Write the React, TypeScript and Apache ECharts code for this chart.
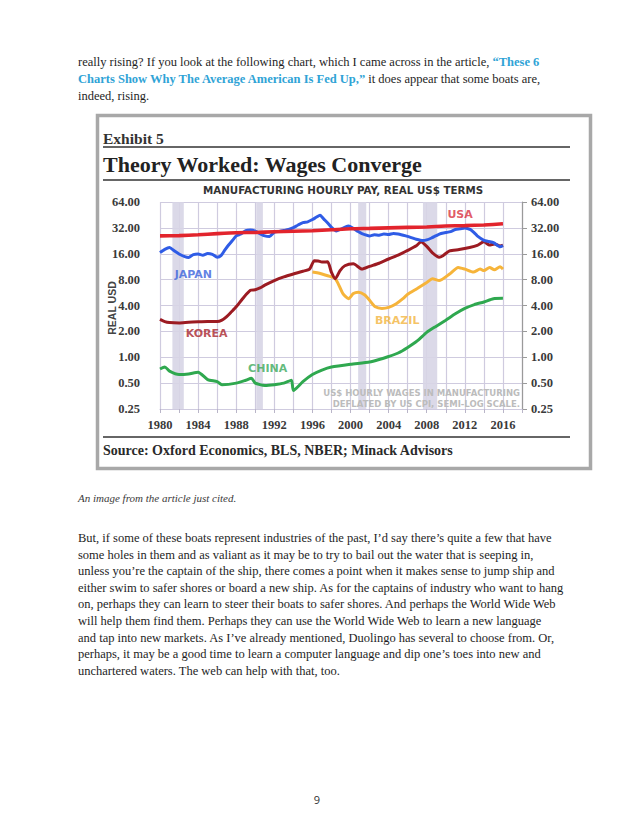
import React, { useEffect, useRef } from "react";
import * as echarts from "echarts";

// ---------- data ----------
const X_MIN = 1980;
const X_MAX = 2018;
const Y_MIN = 0.25;
const Y_MAX = 64;

const RECESSIONS: [number, number][] = [
  [1981.3, 1982.5],
  [1990.1, 1990.8],
  [2000.8, 2001.65],
  [2007.6, 2009.1],
];

const USA: [number, number][] = [
  [1980, 25.8], [1982, 26], [1984, 26.6], [1986, 27.4], [1988, 28.1], [1990, 28.3],
  [1992, 28.8], [1994, 29.2], [1996, 29.6], [1998, 30.4], [2000, 31.3], [2002, 31.6],
  [2004, 32], [2006, 32.4], [2008, 32.8], [2010, 33.6], [2012, 34], [2014, 34.6], [2016, 35.7],
];

const JAPAN: [number, number][] = [
  [1980, 16.5], [1980.5, 18], [1981, 18.9], [1981.5, 17.3], [1982, 15.9], [1982.6, 14.8],
  [1983, 14.5], [1983.5, 15.6], [1984, 15.9], [1984.5, 15.4], [1985, 16.1], [1985.5, 15.7],
  [1986, 14.6], [1986.4, 15.2], [1986.8, 17.6], [1987.2, 20.2], [1987.6, 22.8], [1988, 25.8],
  [1988.5, 27.2], [1989, 29.8], [1989.5, 30.2], [1990, 29.4], [1990.5, 27.4], [1991, 25.8],
  [1991.5, 25.4], [1992, 28.6], [1992.5, 29.1], [1993, 29.8], [1993.5, 30.6], [1994, 32.2],
  [1994.5, 34.6], [1995, 36.8], [1995.5, 37.6], [1996, 40], [1996.4, 42.5], [1996.8, 45],
  [1997.2, 40.5], [1997.6, 36.5], [1998, 32.5], [1998.5, 29.5], [1999, 31], [1999.4, 32.5],
  [1999.8, 33.6], [2000.3, 31.5], [2000.8, 29], [2001.2, 27.4], [2002, 25.8], [2002.5, 26.6],
  [2003, 26.3], [2003.5, 27.1], [2004, 26.8], [2004.5, 27.6], [2005, 27.2], [2005.8, 25.8],
  [2006.4, 24.6], [2006.9, 23.6], [2007.6, 22.8], [2008, 23.2], [2008.5, 24.4], [2009, 26],
  [2009.5, 27.5], [2010, 28.2], [2010.5, 28.9], [2011, 30.6], [2011.5, 31.2], [2012, 32],
  [2012.6, 30.5], [2013, 28], [2013.3, 25.8], [2014, 22.9], [2014.5, 22.2], [2015, 21.6],
  [2015.7, 19.3], [2016, 19.9],
];

const KOREA: [number, number][] = [
  [1980, 2.76], [1980.5, 2.6], [1981, 2.53], [1982, 2.5], [1983, 2.55], [1984, 2.58],
  [1985, 2.6], [1986, 2.6], [1986.5, 2.7], [1987, 2.97], [1987.5, 3.38], [1988, 3.86],
  [1988.8, 5.0], [1989.5, 6.0], [1990, 6.1], [1990.5, 6.4], [1991, 6.9], [1992, 7.8],
  [1993, 8.6], [1994, 9.3], [1995, 10], [1995.7, 10.6], [1996.2, 13.3], [1996.6, 13.2],
  [1997, 12.8], [1997.6, 12.9], [1998, 9.7], [1998.4, 8.2], [1998.9, 10.2], [1999.4, 11.6],
  [2000.3, 12.2], [2001.2, 10.6], [2002, 11.4], [2003, 12.4], [2004, 13.9], [2005, 15.4],
  [2006, 17.5], [2006.9, 19.8], [2007.4, 22], [2008, 19.5], [2008.6, 16.4], [2009.3, 14.6],
  [2009.7, 15.2], [2010.4, 17.3], [2011.4, 17.9], [2012.5, 18.9], [2013.3, 20], [2014, 22],
  [2014.6, 20.2], [2015.1, 20.8], [2015.7, 19.7], [2016, 20.2],
];

const BRAZIL: [number, number][] = [
  [1996, 9.8], [1996.5, 9.6], [1997, 9.3], [1998, 8.6], [1998.4, 8.2], [1998.7, 7.2],
  [1999.2, 5.5], [1999.8, 4.8], [2000.3, 5.5], [2000.8, 5.7], [2001.5, 5.3], [2002, 4.6],
  [2002.6, 3.86], [2003.3, 3.7], [2004, 3.8], [2004.8, 4.2], [2005.5, 4.8], [2006, 5.4],
  [2007, 6.3], [2008, 7.4], [2008.6, 8.2], [2009.3, 7.8], [2010.4, 9.3], [2011.3, 11.1],
  [2012, 10.6], [2012.9, 9.8], [2013.6, 10.6], [2014, 10.2], [2014.6, 11.1], [2015.1, 10.4],
  [2015.7, 11.3], [2016, 10.6],
];

const CHINA: [number, number][] = [
  [1980, 0.73], [1980.5, 0.77], [1981, 0.69], [1982, 0.63], [1983, 0.64], [1984, 0.67],
  [1985, 0.55], [1986, 0.52], [1986.5, 0.48], [1988, 0.5], [1989, 0.54], [1989.6, 0.57],
  [1990, 0.5], [1991, 0.47], [1992, 0.48], [1993, 0.5], [1993.8, 0.54], [1994, 0.41],
  [1995, 0.52], [1996, 0.63], [1997, 0.71], [1998, 0.77], [2000, 0.83], [2002, 0.88],
  [2003, 0.94], [2004, 1.02], [2005, 1.12], [2006, 1.3], [2007, 1.55], [2008, 1.95],
  [2009, 2.3], [2010, 2.7], [2011, 3.2], [2012, 3.7], [2013, 4.1], [2014, 4.4], [2015, 4.8],
  [2016, 4.85],
];

const SERIES_NAMES = ["CHINA", "BRAZIL", "KOREA", "JAPAN", "USA"];
const TITLE_EXHIBIT = "Exhibit 5";
const TITLE = "Theory Worked: Wages Converge";
const SUBTITLE = "MANUFACTURING HOURLY PAY, REAL US$ TERMS";
const Y_NAME = "REAL USD";
const NOTE_LINES = ["US$ HOURLY WAGES IN MANUFACTURING", "DEFLATED BY US CPI, SEMI-LOG SCALE."];
const SOURCE = "Source: Oxford Economics, BLS, NBER; Minack Advisors";

// label anchors in data coordinates (year, value)
const LABEL_ANCHORS: Record<string, [number, number]> = {
  JAPAN: [1983.5, 9.1],
  KOREA: [1984.9, 1.91],
  CHINA: [1991.3, 0.73],
  BRAZIL: [2004.9, 2.71],
  USA: [2011.5, 46],
};

const COLORS: Record<string, string> = {
  USA: "#e2242d",
  JAPAN: "#2f5ce6",
  KOREA: "#9c1b22",
  BRAZIL: "#f6b43a",
  CHINA: "#2fa84f",
};
const LABEL_COLORS: Record<string, string> = {
  USA: "#d9303e",
  JAPAN: "#3a61dc",
  KOREA: "#a8252d",
  BRAZIL: "#f3b43c",
  CHINA: "#3aa85a",
};

const SERIES_DATA: Record<string, [number, number][]> = { USA, JAPAN, KOREA, BRAZIL, CHINA };

const SERIF = '"Liberation Serif", "Times New Roman", serif';
const SANS = '"DejaVu Sans", Verdana, sans-serif';

function Chart() {
  const ref = useRef<HTMLDivElement>(null);
  useEffect(() => {
    if (!ref.current) return;
    const chart = echarts.init(ref.current, null, { renderer: "svg" });
    const gridColor = "#cfcbdf";
    const yLabel = (v: number) => Number(v).toFixed(2);

    const lineSeries = SERIES_NAMES.map((n) => ({
      type: "line",
      name: n,
      data: SERIES_DATA[n],
      showSymbol: false,
      symbol: "none",
      smooth: 0.2,
      lineStyle: { color: COLORS[n], width: n === "USA" ? 3.6 : 3 },
      z: 3,
      silent: true,
    }));

    const labelSeries = SERIES_NAMES.map((n) => ({
      type: "scatter",
      data: [LABEL_ANCHORS[n]],
      symbol: "circle",
      symbolSize: 1,
      itemStyle: { color: "rgba(0,0,0,0)" },
      z: 5,
      silent: true,
      label: {
        show: true,
        position: "inside",
        formatter: n,
        color: LABEL_COLORS[n],
        fontFamily: SANS,
        fontWeight: "bold",
        fontSize: 11,
      },
    }));

    const option: any = {
      animation: false,
      backgroundColor: "transparent",
      grid: { left: 160, top: 202, right: 116, bottom: 417, containLabel: false },
      xAxis: {
        type: "value",
        min: X_MIN,
        max: X_MAX,
        interval: 2,
        axisLine: { show: true, lineStyle: { color: gridColor, width: 1.2 } },
        axisTick: { show: true, length: 4, lineStyle: { color: "#b9b5c8" } },
        axisLabel: {
          formatter: (v: number) => (v % 4 === 0 && v <= 2016 ? String(v) : ""),
          color: "#3a3a3a",
          fontFamily: SERIF,
          fontWeight: "bold",
          fontSize: 12.5,
          margin: 9,
        },
        splitLine: { show: true, lineStyle: { color: gridColor, width: 1.2 } },
      },
      yAxis: [
        {
          type: "log",
          logBase: 2,
          min: Y_MIN,
          max: Y_MAX,
          axisLine: { show: false },
          axisTick: { show: false },
          axisLabel: {
            formatter: yLabel,
            color: "#3a3a3a",
            fontFamily: SERIF,
            fontWeight: "bold",
            fontSize: 12.5,
            margin: 20,
          },
          splitLine: { show: true, lineStyle: { color: gridColor, width: 1.2 } },
        },
        {
          type: "log",
          logBase: 2,
          min: Y_MIN,
          max: Y_MAX,
          position: "right",
          axisLine: { show: true, lineStyle: { color: "#9a9a9a", width: 1.2 } },
          axisTick: { show: true, length: 5, lineStyle: { color: "#9a9a9a" } },
          axisLabel: {
            formatter: yLabel,
            color: "#3a3a3a",
            fontFamily: SERIF,
            fontWeight: "bold",
            fontSize: 12.5,
            margin: 9,
          },
          splitLine: { show: false },
        },
      ],
      series: [
        {
          type: "line",
          data: [],
          silent: true,
          markArea: {
            silent: true,
            itemStyle: { color: "#d7d5e5", opacity: 0.9 },
            data: RECESSIONS.map(([a, b]) => [{ xAxis: a }, { xAxis: b }]),
          },
          z: 1,
        },
        ...lineSeries,
        ...labelSeries,
      ],
      graphic: [
        {
          type: "rect",
          silent: true,
          shape: { x: 97.5, y: 115.5, width: 493, height: 353 },
          style: { fill: "none", stroke: "#a8a8a8", lineWidth: 3.5 },
        },
        {
          type: "text",
          x: 103,
          y: 138,
          style: { text: TITLE_EXHIBIT, fontFamily: SERIF, fontWeight: "bold", fontSize: 15.5, fill: "#333", verticalAlign: "middle" },
        },
        { type: "line", shape: { x1: 103, y1: 147, x2: 570, y2: 147 }, style: { stroke: "#333", lineWidth: 1.6 } },
        {
          type: "text",
          x: 103,
          y: 164,
          style: { text: TITLE, fontFamily: SERIF, fontWeight: "bold", fontSize: 22, fill: "#222", verticalAlign: "middle" },
        },
        { type: "line", shape: { x1: 103, y1: 180, x2: 570, y2: 180 }, style: { stroke: "#333", lineWidth: 1.6 } },
        {
          type: "text",
          x: 343,
          y: 190,
          style: { text: SUBTITLE, fontFamily: SANS, fontWeight: "bold", fontSize: 10.3, fill: "#333", align: "center", verticalAlign: "middle" },
        },
        {
          type: "text",
          x: 112,
          y: 308,
          rotation: Math.PI / 2,
          style: {
            text: Y_NAME,
            fontFamily: '"Liberation Sans", Arial, sans-serif',
            fontWeight: "bold",
            fontSize: 10.5,
            fill: "#444",
            align: "center",
            verticalAlign: "middle",
          },
        },
        {
          type: "text",
          x: 520,
          y: 393,
          z: 10,
          style: { text: NOTE_LINES[0], fontFamily: SANS, fontWeight: "bold", fontSize: 8.5, fill: "#bcbcbc", align: "right", verticalAlign: "middle" },
        },
        {
          type: "text",
          x: 520,
          y: 404,
          z: 10,
          style: { text: NOTE_LINES[1], fontFamily: SANS, fontWeight: "bold", fontSize: 8.5, fill: "#bcbcbc", align: "right", verticalAlign: "middle" },
        },
        { type: "line", shape: { x1: 103, y1: 437, x2: 570, y2: 437 }, style: { stroke: "#333", lineWidth: 1.6 } },
        {
          type: "text",
          x: 103,
          y: 450,
          style: { text: SOURCE, fontFamily: SERIF, fontWeight: "bold", fontSize: 14, fill: "#2a2a2a", verticalAlign: "middle" },
        },
      ],
    };
    chart.setOption(option);
    return () => chart.dispose();
  }, []);
  return <div ref={ref} style={{ position: "absolute", left: 0, top: 0, width: 638, height: 826 }} />;
}

const BODY_FONT = '"Liberation Serif", "Times New Roman", serif';
const LINK_COLOR = "#2fa3d6";

const PARA2_LINES = [
  "But, if some of these boats represent industries of the past, I’d say there’s quite a few that have",
  "some holes in them and as valiant as it may be to try to bail out the water that is seeping in,",
  "unless you’re the captain of the ship, there comes a point when it makes sense to jump ship and",
  "either swim to safer shores or board a new ship. As for the captains of industry who want to hang",
  "on, perhaps they can learn to steer their boats to safer shores. And perhaps the World Wide Web",
  "will help them find them. Perhaps they can use the World Wide Web to learn a new language",
  "and tap into new markets. As I’ve already mentioned, Duolingo has several to choose from. Or,",
  "perhaps, it may be a good time to learn a computer language and dip one’s toes into new and",
  "unchartered waters. The web can help with that, too.",
];

function Line({ y, children, style }: { y: number; children: React.ReactNode; style?: React.CSSProperties }) {
  return (
    <div
      style={{
        position: "absolute",
        left: 78,
        top: y - 8,
        height: 16,
        lineHeight: "16px",
        fontSize: 12.5,
        fontFamily: BODY_FONT,
        color: "#1e1e1e",
        whiteSpace: "nowrap",
        pointerEvents: "none",
        ...style,
      }}
    >
      {children}
    </div>
  );
}

export default function App() {
  const linkStyle: React.CSSProperties = { color: LINK_COLOR, fontWeight: "bold" };
  return (
    <div style={{ position: "absolute", left: 0, top: 0, width: 638, height: 826, background: "#fff", overflow: "hidden" }}>
      <Chart />
      <Line y={62}>
        really rising? If you look at the following chart, which I came across in the article,{" "}
        <span style={linkStyle}>“These 6</span>
      </Line>
      <Line y={79}>
        <span style={linkStyle}>Charts Show Why The Average American Is Fed Up,”</span> it does appear that some boats are,
      </Line>
      <Line y={96}>indeed, rising.</Line>
      <Line y={498} style={{ fontSize: 11, fontStyle: "italic", color: "#3a3a3a" }}>
        An image from the article just cited.
      </Line>
      {PARA2_LINES.map((t, i) => (
        <Line key={i} y={538 + i * 16.6}>
          {t}
        </Line>
      ))}
      <div
        style={{
          position: "absolute",
          left: 0,
          width: 638,
          top: 792,
          textAlign: "center",
          fontFamily: '"Open Sans", "Noto Sans", sans-serif',
          fontSize: 11,
          color: "#333",
          lineHeight: "16px",
        }}
      >
        <span style={{ position: "relative", left: -2 }}>9</span>
      </div>
    </div>
  );
}
